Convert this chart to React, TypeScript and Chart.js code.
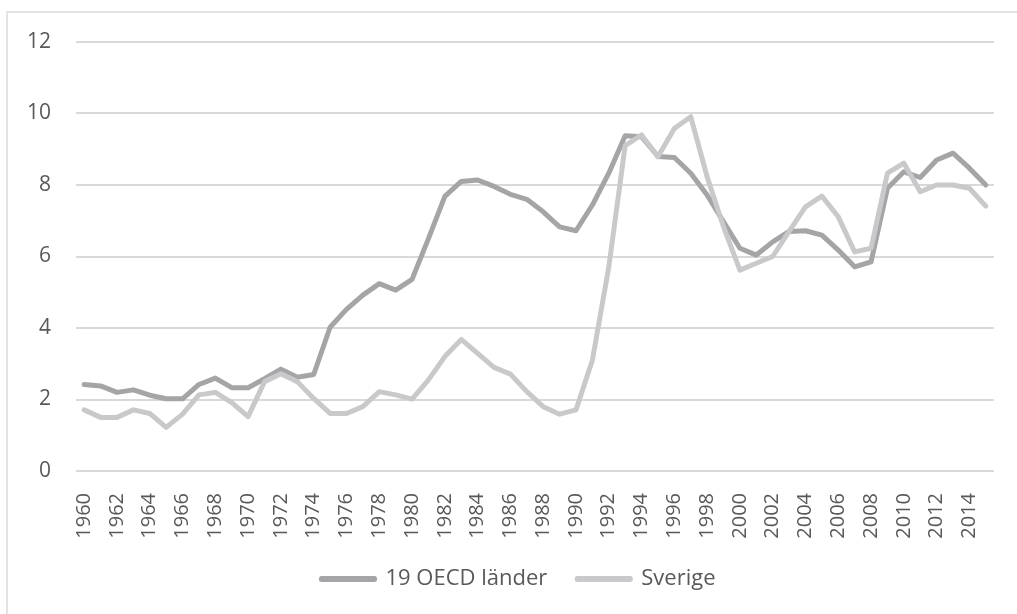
import { useEffect, useRef } from "react";
import { Chart, registerables } from "chart.js";

Chart.register(...registerables);

const years: string[] = [
  "1960", "1961", "1962", "1963", "1964", "1965", "1966", "1967", "1968", "1969",
  "1970", "1971", "1972", "1973", "1974", "1975", "1976", "1977", "1978", "1979",
  "1980", "1981", "1982", "1983", "1984", "1985", "1986", "1987", "1988", "1989",
  "1990", "1991", "1992", "1993", "1994", "1995", "1996", "1997", "1998", "1999",
  "2000", "2001", "2002", "2003", "2004", "2005", "2006", "2007", "2008", "2009",
  "2010", "2011", "2012", "2013", "2014", "2015",
];

const oecd: number[] = [
  2.42, 2.38, 2.2, 2.27, 2.12, 2.02, 2.02, 2.42, 2.6, 2.33,
  2.33, 2.58, 2.85, 2.62, 2.7, 4.02, 4.52, 4.92, 5.24, 5.06,
  5.36, 6.5, 7.68, 8.1, 8.14, 7.96, 7.74, 7.6, 7.25, 6.83,
  6.72, 7.44, 8.33, 9.38, 9.35, 8.8, 8.77, 8.33, 7.72, 6.97,
  6.23, 6.04, 6.41, 6.7, 6.72, 6.6, 6.18, 5.71, 5.85, 7.91,
  8.37, 8.21, 8.7, 8.89, 8.47, 8.0,
];

const sverige: number[] = [
  1.71, 1.5, 1.5, 1.71, 1.61, 1.22, 1.59, 2.13, 2.2, 1.91,
  1.52, 2.5, 2.72, 2.5, 2.03, 1.61, 1.61, 1.8, 2.22, 2.13,
  2.01, 2.55, 3.2, 3.68, 3.29, 2.9, 2.71, 2.22, 1.8, 1.59,
  1.71, 3.1, 5.7, 9.1, 9.4, 8.79, 9.58, 9.91, 8.23, 6.83,
  5.62, 5.81, 6.0, 6.7, 7.39, 7.69, 7.11, 6.13, 6.23, 8.33,
  8.61, 7.81, 8.0, 8.0, 7.91, 7.41,
];

const seriesLabels: string[] = ["19 OECD länder", "Sverige"];
const yMin = 0;
const yMax = 12;
const yStep = 2;

const DARK = "#a5a5a7";
const LIGHT = "#c9c9cb";
const TEXT = "#595959";
const GRID = "#d9d9d9";
const FONT = "'Open Sans', 'Noto Sans', sans-serif";

const legendShift = {
  id: "legendShift",
  afterLayout(chart: any) {
    if (chart.legend) {
      chart.legend.left += 35;
    }
  },
};

export default function App() {
  const ref = useRef<HTMLCanvasElement>(null);

  useEffect(() => {
    if (!ref.current) return;
    const chart = new Chart(ref.current, {
      type: "line",
      plugins: [legendShift],
      data: {
        labels: years,
        datasets: [
          {
            label: seriesLabels[0],
            data: oecd,
            borderColor: DARK,
            backgroundColor: DARK,
            borderWidth: 5,
            pointRadius: 0,
            pointHoverRadius: 0,
            tension: 0,
            borderCapStyle: "round",
            borderJoinStyle: "round",
            order: 2,
          },
          {
            label: seriesLabels[1],
            data: sverige,
            borderColor: LIGHT,
            backgroundColor: LIGHT,
            borderWidth: 5,
            pointRadius: 0,
            pointHoverRadius: 0,
            tension: 0,
            borderCapStyle: "round",
            borderJoinStyle: "round",
            order: 1,
          },
        ],
      },
      options: {
        responsive: false,
        animation: false,
        devicePixelRatio: 1,
        layout: { padding: { left: 8, right: 23, top: 42, bottom: 14 } },
        plugins: {
          legend: {
            position: "bottom",
            labels: {
              boxWidth: 53,
              boxHeight: 1,
              padding: 30,
              color: TEXT,
              font: { family: FONT, size: 22 },
              sort: (a: any, b: any) => a.datasetIndex - b.datasetIndex,
            },
          },
          tooltip: { enabled: false },
        },
        scales: {
          x: {
            offset: true,
            grid: { display: false },
            border: { display: false },
            ticks: {
              autoSkip: false,
              maxRotation: 90,
              minRotation: 90,
              padding: 14,
              color: TEXT,
              font: { family: FONT, size: 20 },
              callback: (_v: any, i: number) => (i % 2 === 0 ? years[i] : ""),
            },
            afterFit: (s: any) => {
              s.height = 67;
              s.paddingLeft = 0;
              s.paddingRight = 0;
            },
          },
          y: {
            min: yMin,
            max: yMax,
            ticks: {
              stepSize: yStep,
              padding: 25,
              color: TEXT,
              font: { family: FONT, size: 21 },
            },
            grid: { color: GRID, lineWidth: 2, drawTicks: false },
            border: { display: false },
            afterFit: (s: any) => {
              s.width = 68;
            },
          },
        },
      },
    });
    return () => chart.destroy();
  }, []);

  return (
    <div style={{ position: "fixed", left: 0, top: 0, width: 1017, height: 614, overflow: "hidden", background: "#fff" }}>
      <div
        style={{
          position: "absolute",
          left: 6,
          top: 11,
          width: 1100,
          height: 700,
          border: "2px solid #e3e3e3",
          boxSizing: "border-box",
        }}
      />
      <canvas ref={ref} width={1017} height={614} style={{ position: "absolute", left: 0, top: 0, width: 1017, height: 614 }} />
    </div>
  );
}
